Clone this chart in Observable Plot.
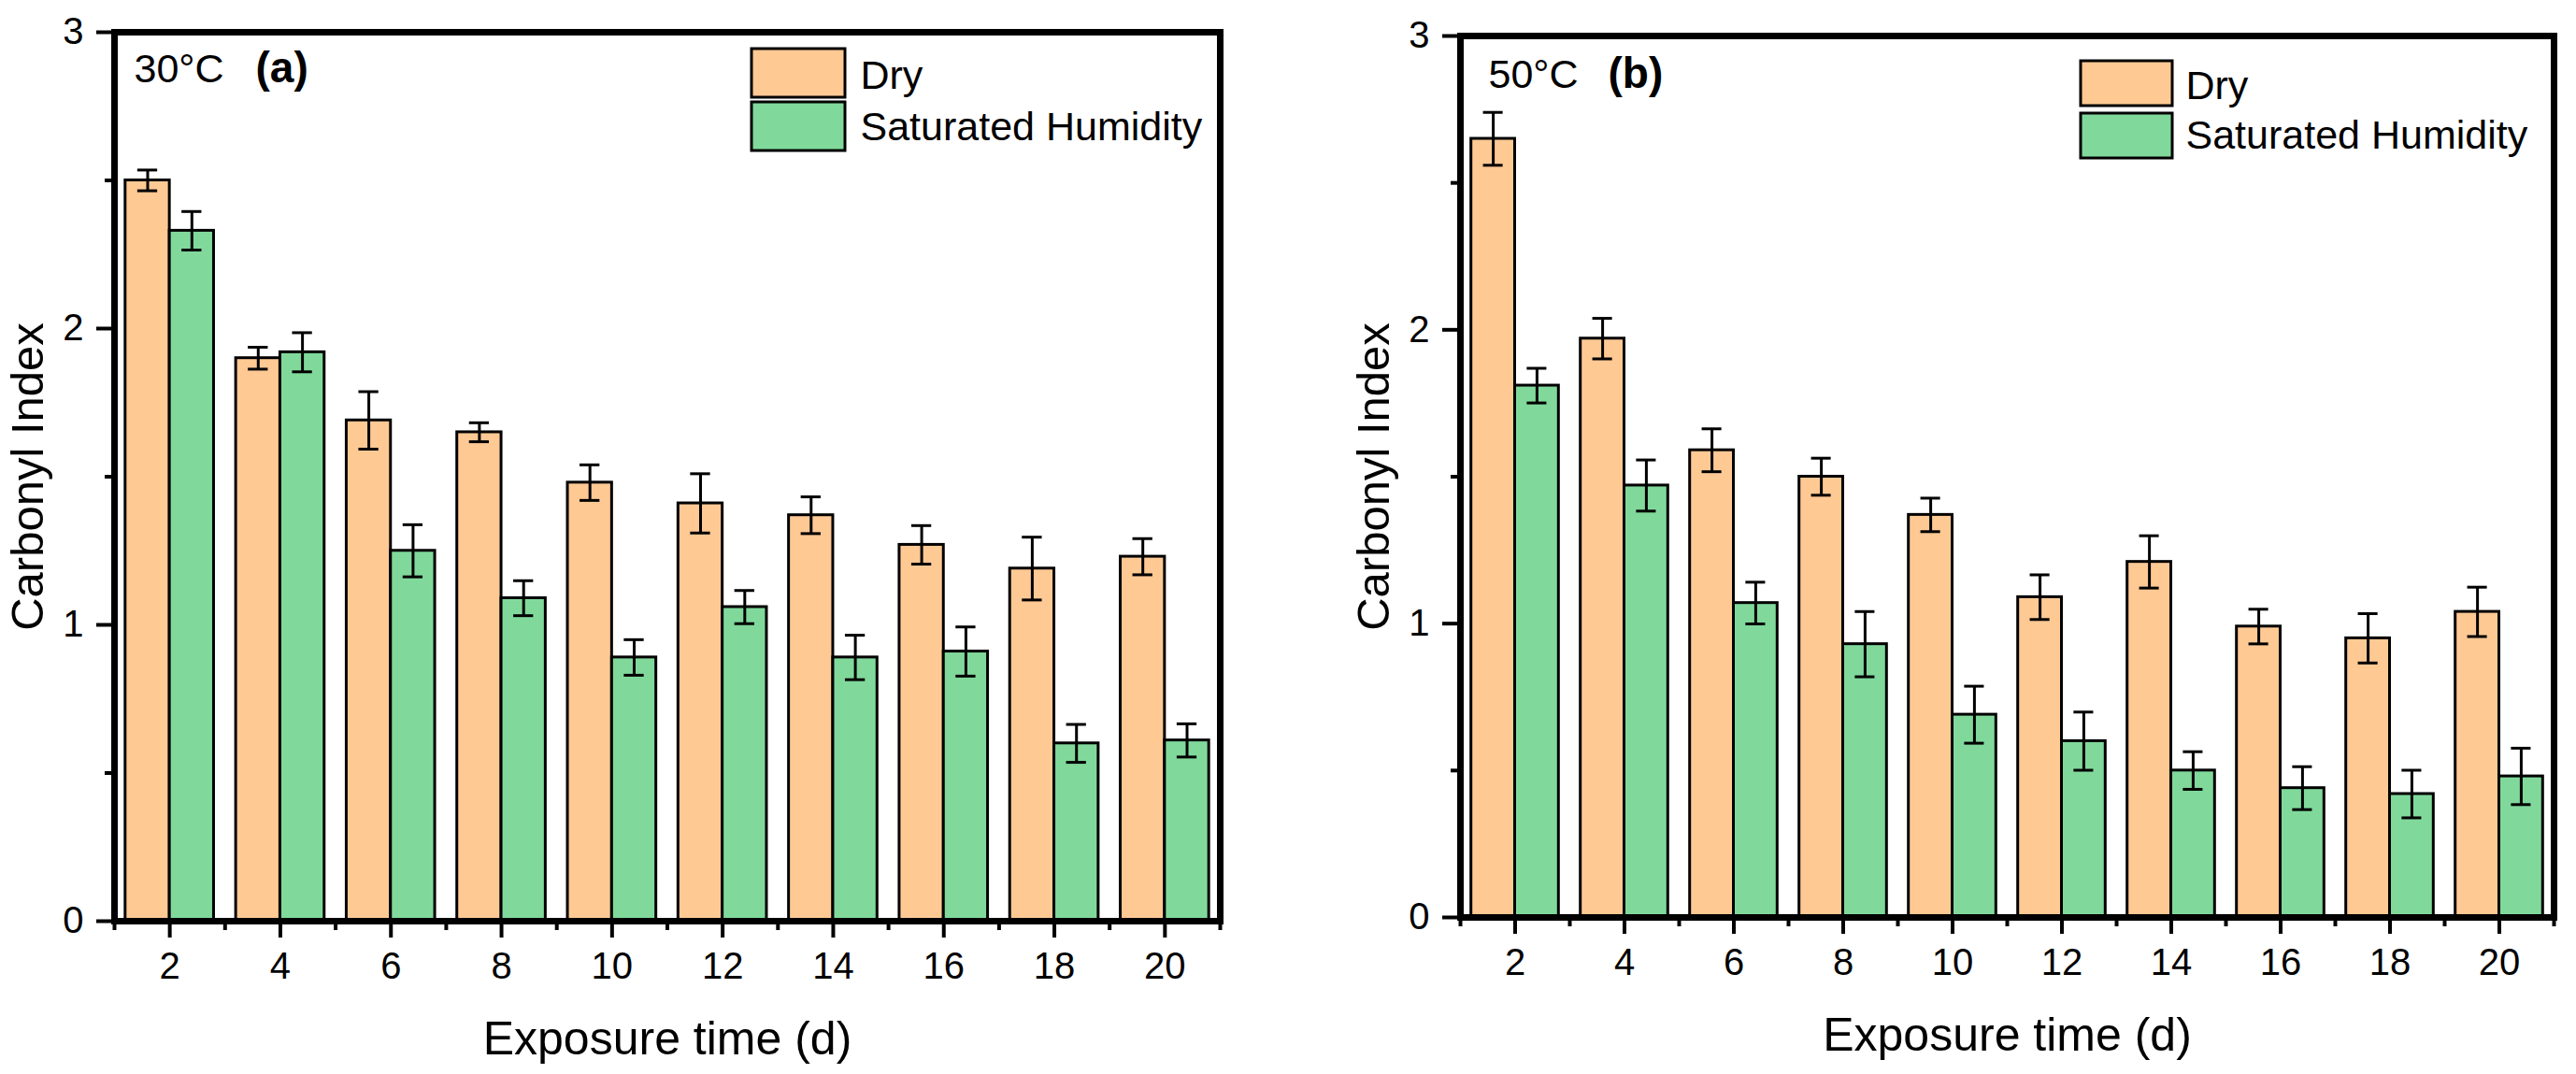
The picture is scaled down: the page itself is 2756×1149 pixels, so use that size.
<!DOCTYPE html>
<html><head><meta charset="utf-8">
<script src="https://cdn.jsdelivr.net/npm/d3@7"></script>
<script src="https://cdn.jsdelivr.net/npm/@observablehq/plot@0.6"></script>
<style>
html,body{margin:0;padding:0;background:#fff;}
#wrap{display:flex;width:2756px;height:1149px;}
#wrap svg{display:block;}
</style></head><body><div id="wrap"></div>
<script>
const days = [2,4,6,8,10,12,14,16,18,20];
const xTicksMajor = [2,4,6,8,10,12,14,16,18,20];
const xTicksMinor = [1,3,5,7,9,11,13,15,17,19,21];
const yTicksMajor = [0,1,2,3];
const yTicksMinor = [0.5,1.5,2.5];
const seriesNames = ["Dry","Saturated Humidity"];
const seriesColors = ["#FFC994","#80D99B"];
const dry30 = [2.50,1.90,1.69,1.65,1.48,1.41,1.37,1.27,1.19,1.23];
const dry30Err = [0.035,0.037,0.097,0.032,0.06,0.10,0.062,0.065,0.106,0.061];
const hum30 = [2.33,1.92,1.25,1.09,0.89,1.06,0.89,0.91,0.60,0.61];
const hum30Err = [0.065,0.066,0.088,0.059,0.06,0.056,0.075,0.083,0.064,0.056];
const dry50 = [2.65,1.97,1.59,1.50,1.37,1.09,1.21,0.99,0.95,1.04];
const dry50Err = [0.09,0.069,0.073,0.063,0.057,0.076,0.089,0.059,0.084,0.084];
const hum50 = [1.81,1.47,1.07,0.93,0.69,0.60,0.50,0.44,0.42,0.48];
const hum50Err = [0.059,0.087,0.071,0.111,0.097,0.099,0.064,0.073,0.081,0.096];
const xLabel = "Exposure time (d)";
const yLabel = "Carbonyl Index";
const tempLabels = ["30°C","50°C"];
const panelTags = ["(a)","(b)"];

const FONT = "'Liberation Sans', Arial, Helvetica, sans-serif";

function panel(cfg) {
  const rows = days.map((t,i)=>({t, dry: cfg.dry[i], dryErr: cfg.dryErr[i], hum: cfg.hum[i], humErr: cfg.humErr[i]}));
  const bw = 0.8, cap = 0.18;
  const legendBoxes = () => {
    const g = d3.create("svg:g");
    seriesNames.forEach((name,i)=>{
      g.append("rect")
        .attr("x", cfg.marginLeft + cfg.legX)
        .attr("y", cfg.marginTop + cfg.legY[i])
        .attr("width", cfg.legW).attr("height", cfg.legH)
        .attr("fill", seriesColors[i]).attr("stroke","black").attr("stroke-width",3);
    });
    return g.node();
  };
  const errMarks = (key, errKey, off) => [
    Plot.ruleX(rows, {x: d=>d.t+off, y1: d=>d[key]-d[errKey], y2: d=>d[key]+d[errKey], stroke:"black", strokeWidth:3}),
    Plot.ruleY(rows, {y: d=>d[key]+d[errKey], x1: d=>d.t+off-cap, x2: d=>d.t+off+cap, stroke:"black", strokeWidth:3}),
    Plot.ruleY(rows, {y: d=>d[key]-d[errKey], x1: d=>d.t+off-cap, x2: d=>d.t+off+cap, stroke:"black", strokeWidth:3})
  ];
  return Plot.plot({
    width: 1378, height: 1149,
    marginLeft: cfg.marginLeft, marginRight: cfg.marginRight, marginTop: cfg.marginTop, marginBottom: cfg.marginBottom,
    style: {fontFamily: FONT, background: "white", color: "black", overflow: "visible"},
    x: {domain: [1,21]},
    y: {domain: [0,3]},
    marks: [
      Plot.rect(rows, {x1: d=>d.t-bw, x2: d=>d.t, y1: ()=>0, y2: "dry", fill: seriesColors[0], stroke:"black", strokeWidth:3}),
      Plot.rect(rows, {x1: d=>d.t, x2: d=>d.t+bw, y1: ()=>0, y2: "hum", fill: seriesColors[1], stroke:"black", strokeWidth:3}),
      ...errMarks("dry","dryErr",-bw/2),
      ...errMarks("hum","humErr",bw/2),
      Plot.axisY({ticks: yTicksMajor, tickSize: 19, tickPadding: 14, fontSize: 40, strokeWidth: 4, label: null, tickFormat: d3.format("d")}),
      Plot.axisY({ticks: yTicksMinor, tickSize: 10, strokeWidth: 4, tickFormat: () => "", label: null}),
      Plot.axisX({ticks: xTicksMajor, tickSize: 18, tickPadding: 15, fontSize: 40, strokeWidth: 4, label: null, tickFormat: d3.format("d")}),
      Plot.axisX({ticks: xTicksMinor, tickSize: 10, strokeWidth: 4, tickFormat: () => "", label: null}),
      Plot.text([yLabel], {text: d=>d, frameAnchor: "left", textAnchor: "middle", lineAnchor: "middle", rotate: -90, dx: cfg.yLabDx, fontSize: 49, fill: "black"}),
      Plot.text([xLabel], {text: d=>d, frameAnchor: "bottom", textAnchor: "middle", lineAnchor: "bottom", dy: cfg.xLabDy, fontSize: 50, fill: "black"}),
      Plot.text([cfg.temp], {text: d=>d, frameAnchor: "top-left", textAnchor: "start", lineAnchor: "bottom", dx: cfg.tempDx, dy: cfg.tempDy, fontSize: 43, fill: "black"}),
      Plot.text([cfg.tag], {text: d=>d, frameAnchor: "top-left", textAnchor: "start", lineAnchor: "bottom", dx: cfg.tagDx, dy: cfg.tempDy, fontSize: 46, fontWeight: "bold", fill: "black"}),
      Plot.text([seriesNames[0]], {text: d=>d, frameAnchor: "top-left", textAnchor: "start", lineAnchor: "bottom", dx: cfg.legTextX, dy: cfg.legTextY[0], fontSize: 43, fill: "black"}),
      Plot.text([seriesNames[1]], {text: d=>d, frameAnchor: "top-left", textAnchor: "start", lineAnchor: "bottom", dx: cfg.legTextX, dy: cfg.legTextY[1], fontSize: 43, fill: "black"}),
      legendBoxes,
      Plot.frame({stroke: "black", strokeWidth: 7})
    ]
  });
}

const wrap = document.getElementById("wrap");
wrap.appendChild(panel({
  dry: dry30, dryErr: dry30Err, hum: hum30, humErr: hum30Err,
  temp: tempLabels[0], tag: panelTags[0],
  marginLeft: 122, marginRight: 73, marginTop: 34, marginBottom: 164,
  yLabDx: -92, xLabDy: 142,
  tempDx: 21, tempDy: 53, tagDx: 151,
  legX: 682, legY: [18, 75], legW: 100, legH: 52,
  legTextX: 798, legTextY: [60, 115]
}));
wrap.appendChild(panel({
  dry: dry50, dryErr: dry50Err, hum: hum50, humErr: hum50Err,
  temp: tempLabels[1], tag: panelTags[1],
  marginLeft: 184, marginRight: 24, marginTop: 38, marginBottom: 168,
  yLabDx: -92, xLabDy: 142,
  tempDx: 30, tempDy: 55, tagDx: 158,
  legX: 664, legY: [27, 83], legW: 98, legH: 48,
  legTextX: 776, legTextY: [67, 120]
}));
</script>
</body></html>
